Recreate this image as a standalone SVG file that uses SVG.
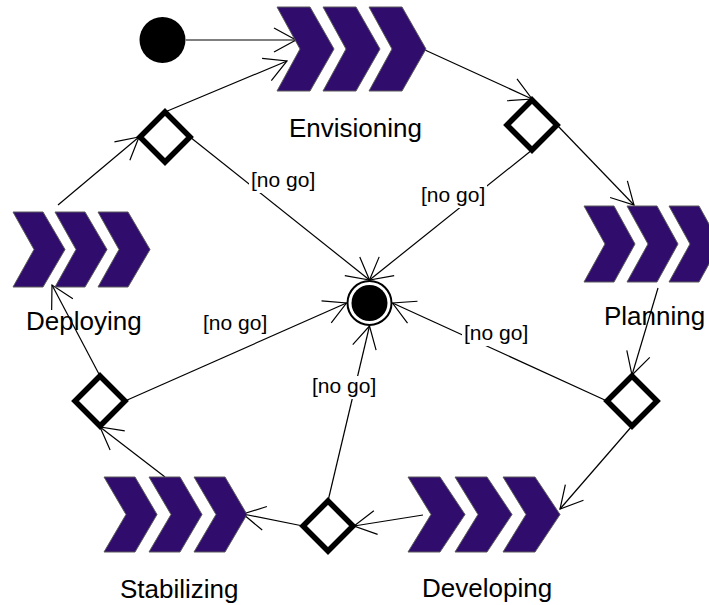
<svg xmlns="http://www.w3.org/2000/svg" width="709" height="605" viewBox="0 0 709 605">
<defs>
<style>
.chev{fill:#300d6c;stroke:#5a5a5a;stroke-width:1}
.dia{fill:#fff;stroke:#000;stroke-width:5.5;stroke-linejoin:miter}
.lbl{font-family:"Liberation Sans",Arial,sans-serif;font-size:26px;fill:#000}
.ng{font-family:"Liberation Sans",Arial,sans-serif;font-size:21px;fill:#000}
.ngbg{fill:#fff}
.edge{fill:none;stroke:#000;stroke-width:1.2;marker-end:url(#arr)}
</style>
<marker id="arr" markerUnits="userSpaceOnUse" orient="auto" markerWidth="30" markerHeight="30" viewBox="-25 -15 30 30" refX="0" refY="0" overflow="visible">
<path d="M-22,-12 L0,0 L-22,12" fill="none" stroke="#000" stroke-width="1.2"/>
</marker>
</defs>
<rect width="709" height="605" fill="#fff"/>

<g id="connectors">
<line class="edge" x1="186" y1="40" x2="296" y2="40"/>
<line class="edge" x1="425" y1="50" x2="532" y2="99"/>
<line class="edge" x1="557" y1="125" x2="634" y2="205"/>
<line class="edge" x1="532" y1="150" x2="369.5" y2="280"/>
<line class="edge" x1="658" y1="288" x2="632" y2="375"/>
<line class="edge" x1="632" y1="426" x2="560" y2="509"/>
<line class="edge" x1="607" y1="401" x2="392.5" y2="303"/>
<line class="edge" x1="423" y1="515" x2="354" y2="526"/>
<line class="edge" x1="303" y1="526" x2="243" y2="514"/>
<line class="edge" x1="328" y1="501" x2="369.5" y2="326"/>
<line class="edge" x1="165" y1="477" x2="100" y2="427"/>
<line class="edge" x1="125" y1="401" x2="346.5" y2="303"/>
<line class="edge" x1="100" y1="376" x2="52" y2="285"/>
<line class="edge" x1="58" y1="205" x2="139" y2="137"/>
<line class="edge" x1="165" y1="112" x2="287" y2="61"/>
<line class="edge" x1="190" y1="137" x2="369.5" y2="280"/>
</g>

<g id="guards">
<rect class="ngbg" x="249" y="170" width="68" height="23"/>
<text class="ng" x="251" y="187">[no go]</text>
<rect class="ngbg" x="419" y="185" width="68" height="23"/>
<text class="ng" x="421" y="202">[no go]</text>
<rect class="ngbg" x="201" y="313" width="68" height="23"/>
<text class="ng" x="203" y="330">[no go]</text>
<rect class="ngbg" x="462" y="323" width="68" height="23"/>
<text class="ng" x="464" y="340">[no go]</text>
<rect class="ngbg" x="310" y="376" width="68" height="23"/>
<text class="ng" x="312" y="393">[no go]</text>
</g>

<g id="initial">
<circle cx="162.5" cy="40" r="23" fill="#000"/>
</g>

<g id="final">
<circle cx="369.5" cy="303" r="22" fill="#fff" stroke="#000" stroke-width="2"/>
<circle cx="369.5" cy="303" r="18" fill="#000"/>
</g>

<g id="envisioning">
<polygon class="chev" points="277,7 310,7 334,49 310,91 277,91 300,49"/>
<polygon class="chev" points="323,7 356,7 380,49 356,91 323,91 346,49"/>
<polygon class="chev" points="369,7 402,7 426,49 402,91 369,91 392,49"/>
<text class="lbl" x="289" y="137">Envisioning</text>
</g>

<g id="planning">
<polygon class="chev" points="584,206 614,206 635,244 614,282 584,282 605,244"/>
<polygon class="chev" points="627,206 657,206 678,244 657,282 627,282 648,244"/>
<polygon class="chev" points="669,206 699,206 720,244 699,282 669,282 690,244"/>
<text class="lbl" x="604" y="325">Planning</text>
</g>

<g id="developing">
<polygon class="chev" points="408,477 440,477 465,514.5 440,552 408,552 431,514.5"/>
<polygon class="chev" points="455,477 487,477 512,514.5 487,552 455,552 478,514.5"/>
<polygon class="chev" points="503,477 535,477 560,514.5 535,552 503,552 526,514.5"/>
<text class="lbl" x="422" y="597">Developing</text>
</g>

<g id="stabilizing">
<polygon class="chev" points="104,477 135,477 157,514.5 135,552 104,552 126,514.5"/>
<polygon class="chev" points="149,477 180,477 202,514.5 180,552 149,552 171,514.5"/>
<polygon class="chev" points="194,477 225,477 247,514.5 225,552 194,552 216,514.5"/>
<text class="lbl" x="120" y="598">Stabilizing</text>
</g>

<g id="deploying">
<polygon class="chev" points="13,212 43,212 65,249.5 43,287 13,287 34,249.5"/>
<polygon class="chev" points="55,212 85,212 107,249.5 85,287 55,287 76,249.5"/>
<polygon class="chev" points="98,212 128,212 150,249.5 128,287 98,287 119,249.5"/>
<text class="lbl" x="26" y="330">Deploying</text>
</g>

<g id="decision-1"><polygon class="dia" points="165,112 190,137 165,162 140,137"/></g>
<g id="decision-2"><polygon class="dia" points="532,100 557,125 532,150 507,125"/></g>
<g id="decision-3"><polygon class="dia" points="632,376 657,401 632,426 607,401"/></g>
<g id="decision-4"><polygon class="dia" points="328,501 353,526 328,551 303,526"/></g>
<g id="decision-5"><polygon class="dia" points="100,376 125,401 100,426 75,401"/></g>
</svg>
